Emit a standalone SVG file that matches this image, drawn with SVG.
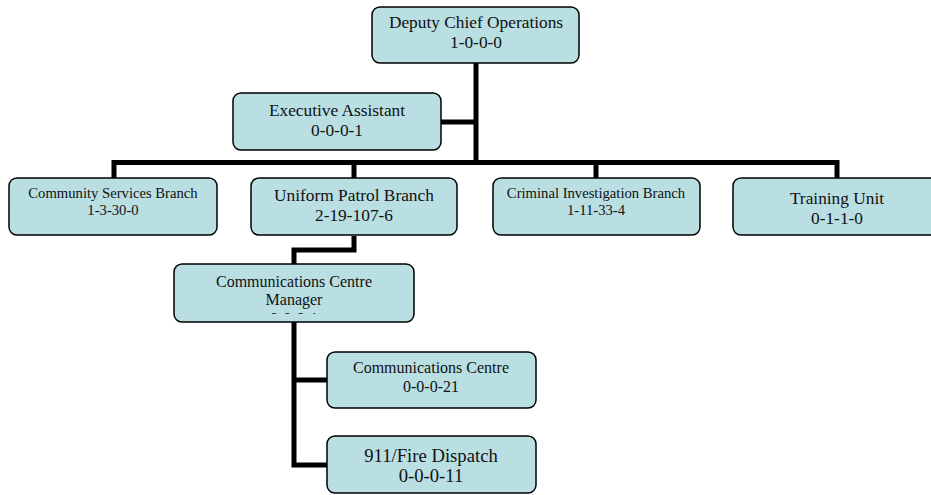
<svg xmlns="http://www.w3.org/2000/svg" width="931" height="495" viewBox="0 0 931 495">
<style>
  .box { fill: #B9DFE3; stroke: #000; stroke-width: 1.5; }
  .t { font-family: "Liberation Serif", "Times New Roman", serif; fill: #111; text-anchor: middle; }
  .conn { fill: none; stroke: #000; stroke-width: 5; stroke-linejoin: miter; stroke-linecap: butt; }
</style>
<defs>
  <clipPath id="clipMgr"><rect x="174" y="264" width="240" height="50"/></clipPath>
</defs>
<rect width="931" height="495" fill="#fff"/>
<g id="connectors">
  <path class="conn" d="M476,63 V162.5"/>
  <path class="conn" d="M441,122 H476"/>
  <path class="conn" d="M114,178 V162.5 H837 V178"/>
  <path class="conn" d="M354,162.5 V178"/>
  <path class="conn" d="M596,162.5 V178"/>
  <path class="conn" d="M354,236 V250 H294 V264"/>
  <path class="conn" d="M294,322 V465 H327"/>
  <path class="conn" d="M294,380 H327"/>
</g>
<g id="deputy-chief">
  <rect class="box" x="372" y="7" width="207" height="56" rx="8"/>
  <text class="t" x="476" y="28" font-size="17.33">Deputy Chief Operations</text>
  <text class="t" x="476" y="48" font-size="17.33">1-0-0-0</text>
</g>
<g id="executive-assistant">
  <rect class="box" x="233" y="93" width="208" height="57" rx="8"/>
  <text class="t" x="337" y="116" font-size="17.33">Executive Assistant</text>
  <text class="t" x="337" y="136" font-size="17.33">0-0-0-1</text>
</g>
<g id="community-services">
  <rect class="box" x="9" y="178" width="208" height="57" rx="8"/>
  <text class="t" x="113" y="198" font-size="14.67">Community Services Branch</text>
  <text class="t" x="113" y="215" font-size="14.67">1-3-30-0</text>
</g>
<g id="uniform-patrol">
  <rect class="box" x="251" y="178" width="206" height="57" rx="8"/>
  <text class="t" x="354" y="201" font-size="17.33">Uniform Patrol Branch</text>
  <text class="t" x="354" y="221" font-size="17.33">2-19-107-6</text>
</g>
<g id="criminal-investigation">
  <rect class="box" x="493" y="178" width="207" height="57" rx="8"/>
  <text class="t" x="596" y="198" font-size="14.67">Criminal Investigation Branch</text>
  <text class="t" x="596" y="215" font-size="14.67">1-11-33-4</text>
</g>
<g id="training-unit">
  <rect class="box" x="733" y="178" width="208" height="57" rx="8"/>
  <text class="t" x="837" y="204" font-size="17.33">Training Unit</text>
  <text class="t" x="837" y="224" font-size="17.33">0-1-1-0</text>
</g>
<g id="comm-centre-manager">
  <rect class="box" x="174" y="264" width="240" height="58" rx="8"/>
  <g clip-path="url(#clipMgr)">
    <text class="t" x="294" y="287" font-size="16">Communications Centre</text>
    <text class="t" x="294" y="305" font-size="16">Manager</text>
    <text class="t" x="294" y="324" font-size="16">0-0-0-1</text>
  </g>
</g>
<g id="comm-centre">
  <rect class="box" x="327" y="352" width="209" height="56" rx="8"/>
  <text class="t" x="431" y="373" font-size="16">Communications Centre</text>
  <text class="t" x="431" y="392" font-size="16">0-0-0-21</text>
</g>
<g id="fire-dispatch">
  <rect class="box" x="327" y="436" width="209" height="57" rx="8"/>
  <text class="t" x="431" y="462" font-size="18.67">911/Fire Dispatch</text>
  <text class="t" x="431" y="482" font-size="18.67">0-0-0-11</text>
</g>
</svg>
